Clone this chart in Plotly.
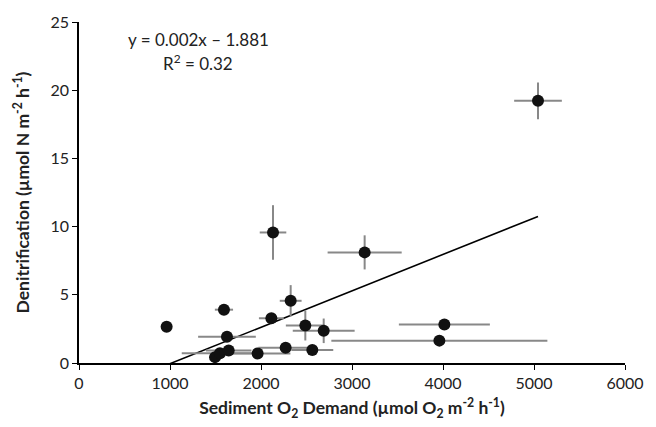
import plotly.graph_objects as go

# Data
sod = [963, 1593, 1626, 1495, 1549, 1645, 1963, 2271, 2564, 2114, 2326, 2487, 2689, 2132, 3139, 4015, 3960, 5044]
sod_err = [0, 100, 317, 60, 420, 250, 360, 300, 230, 137, 120, 214, 340, 146, 407, 500, 1187, 262]
denit = [2.65, 3.91, 1.93, 0.43, 0.72, 0.91, 0.70, 1.11, 0.96, 3.28, 4.56, 2.75, 2.36, 9.57, 8.11, 2.82, 1.64, 19.22]
denit_err = [0, 0.4, 0.25, 0.2, 0.2, 0.25, 0.3, 0.25, 0.2, 0.2, 1.15, 1.1, 0.9, 2.0, 1.25, 0.2, 0.15, 1.35]

trend_slope = 0.00267
trend_intercept = -2.72
trend_x = [min(sod), max(sod)]
trend_y = [trend_slope * v + trend_intercept for v in trend_x]

FONT = "Lato"
TXT = "#222222"

fig = go.Figure()
fig.add_trace(go.Scatter(
    x=trend_x, y=trend_y, mode="lines",
    line=dict(color="black", width=1.6), showlegend=False, hoverinfo="skip"))
fig.add_trace(go.Scatter(
    x=sod, y=denit, mode="markers",
    marker=dict(color="#111111", size=12),
    error_x=dict(type="data", array=sod_err, color="#888888", thickness=2, width=0),
    error_y=dict(type="data", array=denit_err, color="#888888", thickness=2, width=0),
    showlegend=False))

fig.update_layout(
    width=656, height=427,
    margin=dict(l=79, r=31, t=18, b=64),
    plot_bgcolor="white", paper_bgcolor="white",
    font=dict(family=FONT, size=16, color=TXT),
    xaxis=dict(
        range=[0, 6000], tickvals=[0, 1000, 2000, 3000, 4000, 5000, 6000],
        showgrid=False, zeroline=False, showline=True, linecolor="black", linewidth=1.5,
        ticks="outside", ticklen=5, tickcolor="black", tickwidth=1.2,
        tickfont=dict(size=16, family=FONT, color=TXT),
        title=dict(text="<b>Sediment O<sub>2</sub> Demand (µmol O<sub>2</sub> m<sup>-2</sup> h<sup>-1</sup>)</b>",
                   font=dict(size=17.5, family=FONT, color=TXT), standoff=11),
    ),
    yaxis=dict(
        range=[0, 25], tickvals=[0, 5, 10, 15, 20, 25],
        showgrid=False, zeroline=False, showline=True, linecolor="black", linewidth=1.5,
        ticks="outside", ticklen=5, tickcolor="black", tickwidth=1.2,
        tickfont=dict(size=16, family=FONT, color=TXT),
        title=dict(text="<b>Denitrification (µmol N m<sup>-2</sup> h<sup>-1</sup>)</b>",
                   font=dict(size=17.5, family=FONT, color=TXT), standoff=16),
    ),
    annotations=[
        dict(x=1308, y=23.75, xref="x", yref="y", text="y = 0.002x – 1.881", showarrow=False,
             font=dict(size=17, family=FONT, color=TXT)),
        dict(x=1308, y=22.05, xref="x", yref="y", text="R<sup>2</sup> = 0.32", showarrow=False,
             font=dict(size=17, family=FONT, color=TXT)),
    ],
)

fig.write_html("out.html")
